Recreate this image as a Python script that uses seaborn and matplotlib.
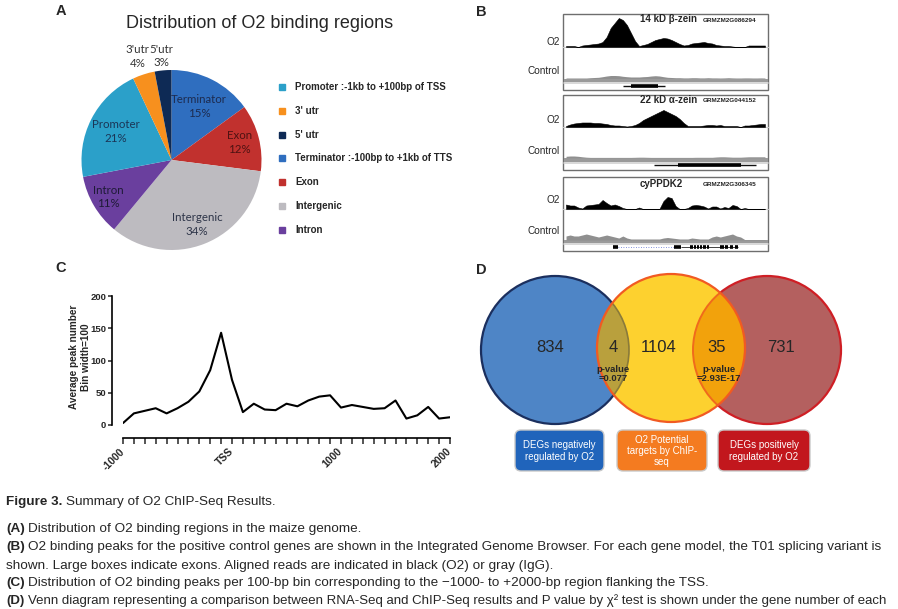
import numpy as np
import pandas as pd
import matplotlib
matplotlib.use("Agg")
import matplotlib.pyplot as plt
import seaborn as sns
from matplotlib.patches import Circle, FancyBboxPatch, Rectangle

W, H = 898, 609

# ---------------- data ----------------
# A: distribution of O2 binding regions (clockwise from 12 o'clock)
region_names = ["Terminator", "Exon", "Intergenic", "Intron", "Promoter", "3'utr", "5'utr"]
region_pct = [15, 12, 34, 11, 21, 4, 3]
region_colors = ["#2f6ebf", "#c1312e", "#bdbbc0", "#6a3f9e", "#2ba0c9", "#f7901e", "#0e2a55"]
legend_labels = ["Promoter :-1kb to +100bp of TSS", "3' utr", "5' utr",
                 "Terminator :-100bp to +1kb of TTS", "Exon", "Intergenic", "Intron"]
legend_order = [4, 5, 6, 0, 1, 2, 3]

# B: read coverage tracks (50 bins across each gene window)
gene_titles = ["14 kD \u03b2-zein", "22 kD \u03b1-zein", "cyPPDK2"]
gene_ids = ["GRMZM2G086294", "GRMZM2G044152", "GRMZM2G306345"]
o2_cov = [
    [1, 1, 1, 0, 1.5, 2, 2.5, 3, 3.5, 5, 10, 19, 24, 29, 27, 22, 14, 6, 1, 2,
     3, 5, 7, 8, 9, 8.5, 7, 5, 3, 1.5, 2, 3.5, 4, 4.5, 5, 4, 3.5, 2, 1.5, 1,
     1, 0.5, 0, 0, 0, 1.5, 1.5, 1.5, 1.5, 1.5],
    [1, 2.5, 3.5, 4, 4.5, 4.5, 4.5, 4, 4, 3.5, 3, 2, 1.5, 1.5, 1, 0.5, 1, 2, 4, 7,
     9, 11, 13, 15, 17, 15, 13, 11, 8, 4, 1, 1, 1, 1, 1.5, 2, 2, 1.5, 2, 1,
     1, 1, 1, 0, 1.5, 1.5, 2, 2.5, 3, 3],
    [4.5, 3.5, 3.5, 1.5, 0.5, 3.5, 4, 4.5, 5, 9, 6, 3.5, 4.5, 3, 1, 0, 0, 0, 1.5, 0,
     0, 0, 0, 0, 8, 12, 11, 3, 0, 0, 1, 3.5, 4, 3.5, 2.5, 0.5, 2.5, 2.5, 0.5, 2,
     1, 4, 3, 0, 1, 0, 0, 0, 0, 0],
]
ctl_cov = [
    [0.5, 0.5, 0.5, 0.5, 0.5, 0.5, 0.8, 1, 1.2, 1.8, 2.5, 3, 3, 2.8, 2.2, 1.8, 1.5, 1.5, 1.5, 1.8,
     2, 2.5, 2.8, 2.5, 1.8, 1.2, 1, 0.8, 0.8, 0.6, 0.6, 0.8, 0.8, 0.6, 0.6, 0.8, 0.6, 0.6, 0.5, 0.6,
     0.8, 0.6, 0.5, 0.5, 0.6, 0.6, 0.5, 0.5, 0.6, 0.5],
    [1.5, 1.8, 1.8, 1.5, 1, 0.6, 0.4, 0.4, 0.4, 0.4, 0.4, 0.4, 0.4, 0.4, 0.4, 0.4, 0.4, 0.5, 0.6, 0.6,
     0.5, 0.4, 0.4, 0.4, 0.4, 0.4, 0.4, 0.4, 0.4, 0.4, 0.4, 0.4, 0.5, 0.5, 0.5, 0.5, 0.5, 0.8, 1, 1,
     0.8, 0.6, 0.6, 0.6, 0.8, 1, 1, 1, 1, 1],
    [4, 5, 4, 4, 5, 6, 5, 4, 3, 4, 5, 4, 3, 2, 4, 2, 1, 1, 1, 1,
     1, 1, 1, 1, 2, 2.5, 2, 1.5, 1, 1, 1, 2, 1.5, 1, 1, 1, 3, 4, 3, 4,
     5, 6, 4, 3, 0.5, 0.5, 0.5, 0.5, 0.5, 0.5],
]
# gene models in bin units: (start, end) and exon blocks
gene_span = [(14.1, 24.5), (21.7, 46.9), (11.6, 42.4)]
gene_exons = [
    [(16.1, 22.7)],
    [(27.6, 43.2)],
    [(11.6, 12.9), (26.6, 28.3), (30.6, 31.2), (31.4, 32.0), (32.2, 32.8), (33.0, 33.6),
     (33.8, 34.4), (34.6, 35.2), (38.0, 38.8), (39.2, 40.0), (40.4, 41.2), (41.5, 42.4)],
]

# C: average peak number per 100-bp bin
bin_pos = list(range(-1000, 2001, 100))
peak_num = [3, 18, 22, 26, 18, 26, 36, 52, 85, 143, 70, 20, 33, 24, 23, 33,
            29, 38, 44, 46, 27, 31, 28, 25, 26, 38, 10, 15, 28, 10, 12]
tick_names = {-1000: "-1000", 0: "TSS", 1000: "1000", 2000: "2000"}

# D: venn counts
venn_counts = ["834", "4", "1104", "35", "731"]
venn_pvals = ["p-value\n=0.077", "p-value\n=2.93E-17"]
set_names = ["DEGs negatively\nregulated by O2", "O2 Potential\ntargets by ChIP-\nseq",
             "DEGs positively\nregulated by O2"]
set_colors = ["#2064bb", "#f47b20", "#c2171d"]

caption = [
    ("Figure 3.", "Summary of O2 ChIP-Seq Results."),
    ("(A)", "Distribution of O2 binding regions in the maize genome."),
    ("(B)", "O2 binding peaks for the positive control genes are shown in the Integrated Genome Browser. "
            "For each gene model, the T01 splicing variant is"),
    ("", "shown. Large boxes indicate exons. Aligned reads are indicated in black (O2) or gray (IgG)."),
    ("(C)", "Distribution of O2 binding peaks per 100-bp bin corresponding to the \u22121000- to "
            "+2000-bp region flanking the TSS."),
    ("(D)", "Venn diagram representing a comparison between RNA-Seq and ChIP-Seq results and P value by "
            "\u03c7\u00b2 test is shown under the gene number of each"),
]

# ---------------- figure ----------------
sns.set_style("white")
plt.rcParams['font.family'] = ['Liberation Sans', 'DejaVu Sans']

fig = plt.figure(figsize=(W / 100, H / 100), dpi=100)


def box(x0, y0, x1, y1):
    # pixel box (top-left origin) -> figure rect
    return [x0 / W, 1 - y1 / H, (x1 - x0) / W, (y1 - y0) / H]


def ftext(x, y, s, **kw):
    return fig.text(x / W, 1 - y / H, s, **kw)


for lab, (x, y) in zip("ABCD", [(61, 11), (481, 12), (61, 268), (481, 270)]):
    ftext(x, y, lab, fontsize=10.5, fontweight='bold', ha='center', va='center')

# --- A: pie ---
axA = fig.add_axes(box(81.5, 70, 261.5, 250))
wedges, _ = axA.pie(region_pct, colors=region_colors, startangle=90, counterclock=False,
                    wedgeprops=dict(linewidth=0))
axA.set_xlim(-1, 1)
axA.set_ylim(-1, 1)
label_r = [0.67, 0.78, 0.77, 0.81, 0.69, 1.21, 1.16]
label_c = ["#1d2b4f", "#4e1212", "#2d3448", "#1e1a36", "#1b3556", "#333333", "#333333"]
for w, name, p, r, c in zip(wedges, region_names, region_pct, label_r, label_c):
    ang = np.deg2rad((w.theta1 + w.theta2) / 2)
    axA.text(r * np.cos(ang), r * np.sin(ang), f"{name}\n{p}%", ha='center', va='center',
             fontsize=8.3, family='Lato', color=c, linespacing=1.3, clip_on=False)
ftext(260, 23, "Distribution of O2 binding regions", fontsize=13, ha='center', va='center')

for i, idx in enumerate(legend_order):
    yc = 87 + i * 23.8
    fig.add_artist(Rectangle((279 / W, 1 - (yc + 3) / H), 6 / W, 6 / H,
                             transform=fig.transFigure, color=region_colors[idx]))
    ftext(295, yc, legend_labels[i], fontsize=7, fontweight='bold', va='center')

# --- B: genome browser tracks ---
tracks = [
    dict(top=14, bot=90, o2=(15, 47), ctl=(58, 78.5), band=(78.5, 81.8), line=83.2, gene=85.5,
         ty=19, o2y=42, cy=71),
    dict(top=95, bot=170, o2=(100, 127), ctl=(140, 157.8), band=(157.8, 161.5), line=162.6, gene=164.5,
         ty=100, o2y=120, cy=151),
    dict(top=177, bot=251, o2=(189, 209), ctl=(225, 240), band=(240, 242.5), line=243.6, gene=246.5,
         ty=184, o2y=200, cy=231),
]
axB = fig.add_axes(box(560, 10, 772, 255))
axB.set_xlim(560, 772)
axB.set_ylim(255, 10)
axB.axis('off')
bx0, bx1 = 563, 768
bins = np.arange(50)
for k, tr in enumerate(tracks):
    axB.add_patch(Rectangle((bx0, tr['top']), bx1 - bx0, tr['bot'] - tr['top'],
                            fill=False, edgecolor="#6e6e6e", lw=1))
    axB.plot([bx0, bx1], [tr['o2'][1], tr['o2'][1]], color="#cfcfcf", lw=0.8)
    axB.add_patch(Rectangle((bx0 + 0.5, tr['band'][0]), bx1 - bx0 - 1, tr['band'][1] - tr['band'][0],
                            color="#9a9a9a", lw=0))
    axB.plot([bx0 + 0.5, bx1 - 0.5], [tr['line'], tr['line']], color="#d2d2d2", lw=1.2)

    ax_o2 = fig.add_axes(box(bx0 + 1, tr['o2'][0], bx1 - 1, tr['o2'][1]))
    ax_o2.fill_between(bins, 0, o2_cov[k], color='black', lw=0.4, edgecolor='black')
    ax_o2.set_xlim(-0.5, 49.5)
    ax_o2.set_ylim(0, tr['o2'][1] - tr['o2'][0])
    ax_o2.axis('off')

    ax_c = fig.add_axes(box(bx0 + 1, tr['ctl'][0], bx1 - 1, tr['ctl'][1]))
    ax_c.fill_between(bins, 0, ctl_cov[k], color="#8f8f8f", lw=0)
    ax_c.set_xlim(-0.5, 49.5)
    ax_c.set_ylim(0, tr['ctl'][1] - tr['ctl'][0])
    ax_c.axis('off')

    ax_g = fig.add_axes(box(bx0 + 1, tr['gene'] - 3, bx1 - 1, tr['gene'] + 3))
    ax_g.set_xlim(-0.5, 49.5)
    ax_g.set_ylim(-1, 1)
    ax_g.axis('off')
    gs, ge = gene_span[k]
    if k == 2:
        ax_g.hlines(0, gs, gene_exons[k][1][0], color="#5a6fd0", lw=0.6, linestyles=(0, (1, 2)))
        ax_g.hlines(0, gene_exons[k][1][1], ge, color="#222222", lw=0.6)
    else:
        ax_g.hlines(0, gs, ge, color="#111111", lw=1.0)
    for es, ee in gene_exons[k]:
        ax_g.hlines(0, es, ee, color="black", lw=2.6)

    ftext(640, tr['ty'], gene_titles[k], fontsize=7, fontweight='bold', va='center')
    ftext(703, tr['ty'] + 1, gene_ids[k], fontsize=4.6, fontweight='bold', va='center', color="#222222")
    ftext(560, tr['o2y'], "O2", fontsize=7.2, ha='right', va='center')
    ftext(560, tr['cy'], "Control", fontsize=7.2, ha='right', va='center')

# --- C: peak distribution ---
dfC = pd.DataFrame({"pos": bin_pos, "peaks": peak_num})
axC = fig.add_axes(box(123, 296, 450, 425))
sns.lineplot(data=dfC, x="pos", y="peaks", ax=axC, color="black", lw=1.5)
axC.lines[0].set_solid_joinstyle('round')
axC.set_xlim(-1000, 2000)
axC.set_ylim(0, 200)
for s in ["top", "right"]:
    axC.spines[s].set_visible(False)
axC.spines["left"].set_position(("outward", 8))
axC.spines["bottom"].set_position(("outward", 9))
for s in ["left", "bottom"]:
    axC.spines[s].set_linewidth(1.2)
    axC.spines[s].set_color("black")
axC.set_yticks([0, 50, 100, 150, 200])
axC.set_xticks(bin_pos)
axC.set_xticklabels([tick_names.get(p, "") for p in bin_pos], rotation=45, ha='right',
                    va='center', rotation_mode='anchor', fontweight='bold', fontsize=7.5)
axC.tick_params(axis='x', direction='out', length=4, width=1.1, pad=5, bottom=True)
axC.tick_params(axis='y', direction='out', length=3, width=1.1, pad=1, left=True, labelsize=6.8)
for t in axC.get_yticklabels():
    t.set_fontweight('bold')
axC.set_xlabel("")
axC.set_ylabel("")
axC.grid(False)
ftext(74, 357, "Average peak number", rotation=90, fontsize=7.2, fontweight='bold', ha='center', va='center')
ftext(86, 357, "Bin width=100", rotation=90, fontsize=7.2, fontweight='bold', ha='center', va='center')

# --- D: venn ---
axD = fig.add_axes(box(475, 270, 845, 480))
axD.set_xlim(475, 845)
axD.set_ylim(480, 270)
axD.axis('off')
c_blue = ((555, 350), 74)
c_yel = ((671, 348), 74)
c_red = ((767, 350), 74)
axD.add_patch(Circle(*c_blue, facecolor="#4e85c6", edgecolor="#1b2f5e", lw=1.6))
axD.add_patch(Circle(*c_red, facecolor="#b4605f", edgecolor="#cf1f25", lw=1.6))
yel = Circle(*c_yel, facecolor="#fdd12f", edgecolor="none")
axD.add_patch(yel)
ov1 = Circle(*c_blue, facecolor="#b9a03d", edgecolor="#8a7a3a", lw=1.2)
axD.add_patch(ov1)
ov1.set_clip_path(yel)
ov2 = Circle(*c_red, facecolor="#f2a20c", edgecolor="#f06a1c", lw=1.4)
axD.add_patch(ov2)
ov2.set_clip_path(yel)
axD.add_patch(Circle(*c_yel, facecolor="none", edgecolor="#f15a22", lw=1.6))

for s, x in zip(venn_counts, [550, 613, 659, 717, 781]):
    axD.text(x, 348, s, fontsize=12, ha='center', va='center')
for s, x in zip(venn_pvals, [613, 719]):
    axD.text(x, 374, s, fontsize=6.8, fontweight='bold', ha='center', va='center', linespacing=1.0)

for name, col, (x0, x1) in zip(set_names, set_colors, [(515, 604), (617, 707), (718, 810)]):
    axD.add_patch(FancyBboxPatch((x0, 430), x1 - x0, 41, boxstyle="round,pad=0,rounding_size=6",
                                 facecolor=col, edgecolor="#c9c9c9", lw=1))
    axD.text((x0 + x1) / 2, 451, name, fontsize=7, color="white", ha='center', va='center',
             linespacing=1.15)

# --- caption ---
# the long lines should end near the right margin, shrink the font if they run past it
renderer = fig.canvas.get_renderer()
right_edge = 893
for (bold, rest), y in zip(caption, [502, 529, 547, 566, 583, 601]):
    size = 9.7
    parts = []
    x = 6
    if bold:
        t = ftext(x, y, bold, fontsize=size, fontweight='bold', va='center')
        parts.append(t)
        x = t.get_window_extent(renderer).x1 + 3.5
    t2 = ftext(x, y, rest, fontsize=size, va='center')
    parts.append(t2)
    end = t2.get_window_extent(renderer).x1
    if end > right_edge:
        scale = (right_edge - 6) / (end - 6)
        for p in parts:
            p.set_fontsize(size * scale)
        if bold:
            t2.set_x((parts[0].get_window_extent(renderer).x1 + 3.5 * scale) / W)

fig.savefig("out.png", dpi=100)
